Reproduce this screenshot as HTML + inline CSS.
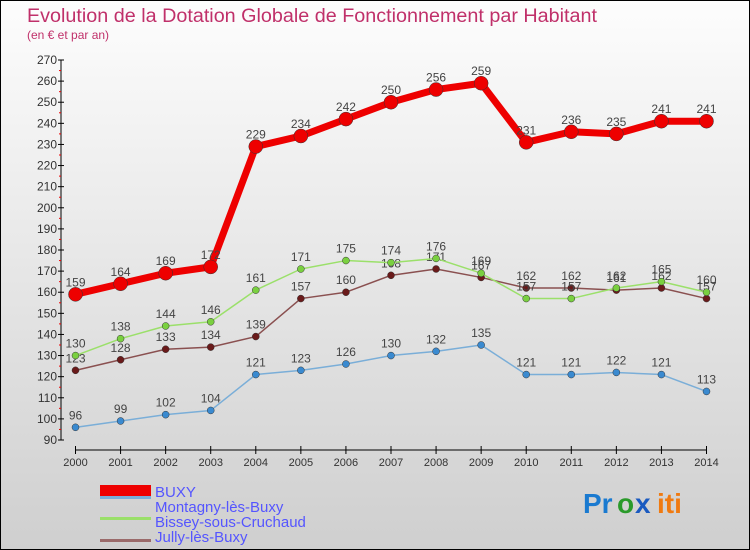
<!DOCTYPE html>
<html><head><meta charset="utf-8"><style>
body{margin:0;width:750px;height:550px;overflow:hidden}
svg{display:block;font-family:"Liberation Sans",sans-serif}
</style></head><body>
<svg id="c" width="750" height="550">
<defs><linearGradient id="bg" x1="0" y1="0" x2="0" y2="1"><stop offset="0" stop-color="#fdfdfd"/><stop offset="1" stop-color="#cfcfcf"/></linearGradient></defs>
<rect x="0.5" y="0.5" width="749" height="549" fill="url(#bg)" stroke="#000"/>
<text x="27" y="22" font-size="19" fill="#c0306a" textLength="570" lengthAdjust="spacingAndGlyphs">Evolution de la Dotation Globale de Fonctionnement par Habitant</text>
<text x="27" y="39" font-size="12" fill="#c0306a">(en € et par an)</text>
<g id="axes"></g><g id="series"></g>
<g>
<rect x="100" y="485" width="51" height="11" fill="#e00"/>
<text x="155" y="497" font-size="15" fill="#5555ff">BUXY</text>
<rect x="100" y="496" width="51" height="3" fill="#7aaed8"/>
<text x="155" y="512" font-size="15" fill="#5555ff">Montagny-lès-Buxy</text>
<rect x="100" y="517" width="51" height="3" fill="#9be06a"/>
<text x="155" y="527" font-size="15" fill="#5555ff">Bissey-sous-Cruchaud</text>
<rect x="100" y="539" width="51" height="3" fill="#9a6a6a"/>
<text x="155" y="542" font-size="15" fill="#5555ff">Jully-lès-Buxy</text>
</g>
<g font-size="28" font-weight="bold">
<text x="583" y="513" fill="#1a7ad0">Pr</text><text x="617" y="513" fill="#2a9a2a">o</text><text x="635" y="513" fill="#1a5ac0">x</text><text x="657" y="513" fill="#f07a10">iti</text>
</g>
</svg>
<script>
const years=[2000,2001,2002,2003,2004,2005,2006,2007,2008,2009,2010,2011,2012,2013,2014];
const yTicks=[90,100,110,120,130,140,150,160,170,180,190,200,210,220,230,240,250,260,270];
const buxy=[159,164,169,172,229,234,242,250,256,259,231,236,235,241,241];
const montagny=[96,99,102,104,121,123,126,130,132,135,121,121,122,121,113];
const bissey=[130,138,144,146,161,171,175,174,176,169,157,157,162,165,160];
const jully=[123,128,133,134,139,157,160,168,171,167,162,162,161,162,157];
const NS='http://www.w3.org/2000/svg';
const X=i=>75.5+i*(706.5-75.5)/(years.length-1);
const Y=v=>440-(v-90)*(380/180);
function mk(t,a,p){const e=document.createElementNS(NS,t);for(const k in a)e.setAttribute(k,a[k]);p.appendChild(e);return e;}
const ax=document.getElementById('axes');
mk('line',{x1:61,y1:Y(270),x2:61,y2:Y(90),stroke:'#000'},ax);
mk('line',{x1:X(0),y1:450,x2:X(14),y2:450,stroke:'#000'},ax);
yTicks.forEach((v,i)=>{
 const l=mk('line',{x1:58,y1:Y(v),x2:64,y2:Y(v),stroke:'#000'},ax);
 
 
 const t=mk('text',{x:57,y:Y(v)+4,'text-anchor':'end','font-size':12,fill:'#333'},ax);
 t.textContent=v;
 
 
 if(i<yTicks.length-1){mk('line',{x1:59,y1:Y(v+5),x2:61,y2:Y(v+5),stroke:'#e00'},ax);}
});
years.forEach((y,i)=>{
 mk('line',{x1:X(i),y1:446,x2:X(i),y2:454,stroke:'#000'},ax);
 const t=mk('text',{x:X(i),y:466,'text-anchor':'middle','font-size':11,fill:'#333'},ax);
 t.textContent=y;
 
 
});
const sg=document.getElementById('series');
function series(name,data,col,dot,w,r){
 const g=mk('g',{},sg);
 
 
 mk('polyline',{points:data.map((v,i)=>X(i)+','+Y(v)).join(' '),fill:'none',stroke:col,'stroke-width':w,'stroke-linejoin':'round'},g);
 data.forEach((v,i)=>{
  const c=mk('circle',{cx:X(i),cy:Y(v),r:r,fill:dot,stroke:'#333','stroke-width':0.5},g);
  
  
  const t=mk('text',{x:X(i),y:Y(v)-8,'text-anchor':'middle','font-size':12,fill:'#444'},g);
  t.textContent=v;
  
  
 });
}
series('montagny',montagny,'#7aaed8','#3a8ad0',1.5,3.5);
series('jully',jully,'#8a5050','#6a1a1a',1.5,3.5);
series('bissey',bissey,'#9be06a','#7ad040',1.5,3.5);
series('buxy',buxy,'#e00','#e00',7,7);
</script>
</body></html>
